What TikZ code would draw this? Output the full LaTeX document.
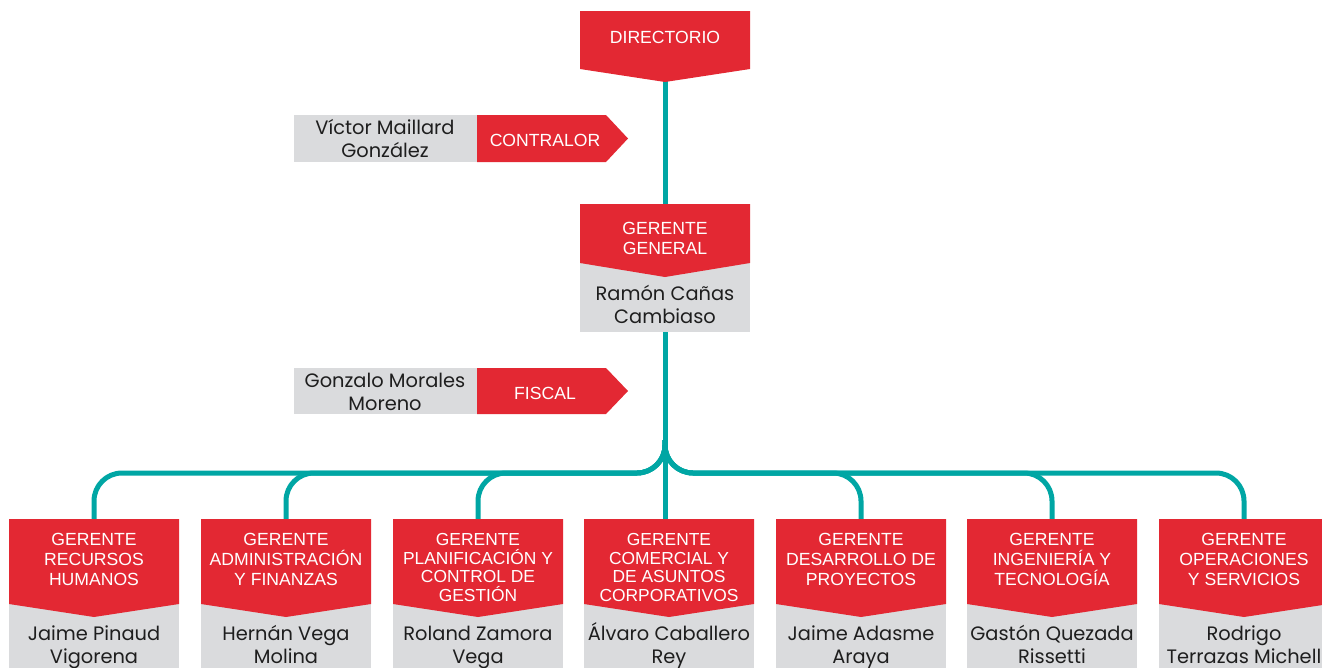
\documentclass[tikz,border=0pt]{standalone}
\usepackage{fontspec}
\setmainfont{Liberation Sans}
\newfontfamily\namefont{Poppins}
\definecolor{cred}{RGB}{227,40,51}
\definecolor{cgray}{RGB}{218,219,221}
\definecolor{cteal}{RGB}{0,166,164}
\definecolor{ctext}{RGB}{30,30,30}
\tikzset{
  redlbl/.style={text=white, font=\fontsize{17.6}{20}\selectfont, align=center, inner sep=0pt, anchor=base},
  redlblt/.style={redlbl, font=\fontsize{17.4}{18.5}\selectfont},
  namelbl/.style={text=ctext, font=\namefont\fontsize{19.4}{22.8}\selectfont, align=center, inner sep=0pt, anchor=base},
  conn/.style={draw=cteal, line width=5pt, rounded corners=28pt},
}
\begin{document}
\begin{tikzpicture}[x=1pt,y=-1pt]
\useasboundingbox (0,0) rectangle (1322,667);
% connector anchor points
\coordinate (dirB) at (665,80);
\coordinate (ggT) at (665,206);
\coordinate (ggB) at (665,330);
\coordinate (hub) at (665,440);
\coordinate (t4) at (665,521);
\foreach \i/\x in {1/94,2/286,3/478,5/861,6/1052,7/1244}{
  \coordinate (u\i) at (\x,473);
  \coordinate (t\i) at (\x,521);
}
% connectors
\draw[conn] (dirB) -- (ggT);
\draw[conn] (ggB) -- (t4);
\foreach \i in {1,2,3,5,6,7}{
  \draw[conn] (hub) |- (u\i) -- (t\i);
}
% DIRECTORIO
\fill[cred] (580,11) -- (750,11) -- (750,69) -- (665,82) -- (580,69) -- cycle;
\node[redlbl] (dir) at (665,43) {DIRECTORIO};
% GERENTE GENERAL
\fill[cgray] (580,255) rectangle (750,332);
\fill[cred] (580,204) -- (750,204) -- (750,263) -- (665,277) -- (580,263) -- cycle;
\node[redlbl] (gg) at (665,254) {GERENTE\\GENERAL};
\node[namelbl] (ggn) at (665,323) {Ramón Cañas\\Cambiaso};
% CONTRALOR
\fill[cgray] (294,115) rectangle (477,162);
\fill[cred] (477,115) -- (606,115) -- (628,138.5) -- (606,162) -- (477,162) -- cycle;
\node[redlbl] (con) at (545,146) {CONTRALOR};
\node[namelbl] (conn) at (385,157) {Víctor Maillard\\González};
% FISCAL
\fill[cgray] (294,368) rectangle (477,414);
\fill[cred] (477,368) -- (606,368) -- (628,391) -- (606,414) -- (477,414) -- cycle;
\node[redlbl] (fis) at (545,399) {FISCAL};
\node[namelbl] (fisn) at (385,410) {Gonzalo Morales\\Moreno};
% bottom boxes
\foreach \i/\l in {1/9,2/201,3/393,4/584,5/776,6/967,7/1159}{
  \pgfmathsetmacro{\r}{\l+170}
  \pgfmathsetmacro{\c}{\l+85}
  \fill[cgray] (\l,600) rectangle (\r,680);
  \fill[cred] (\l,519) -- (\r,519) -- (\r,604) -- (\c,617) -- (\l,604) -- cycle;
  \coordinate (c\i) at (\c,585);
  \coordinate (d\i) at (\c,601);
  \coordinate (n\i) at (\c,663);
}
\node[redlbl] (g1) at (c1) {GERENTE\\RECURSOS\\HUMANOS};
\node[redlbl] (g2) at (c2) {GERENTE\\ADMINISTRACIÓN\\Y FINANZAS};
\node[redlblt] (g3) at (d3) {GERENTE\\PLANIFICACIÓN Y\\CONTROL DE\\GESTIÓN};
\node[redlblt] (g4) at (d4) {GERENTE\\COMERCIAL Y\\DE ASUNTOS\\CORPORATIVOS};
\node[redlbl] (g5) at (c5) {GERENTE\\DESARROLLO DE\\PROYECTOS};
\node[redlbl] (g6) at (c6) {GERENTE\\INGENIERÍA Y\\TECNOLOGÍA};
\node[redlbl] (g7) at (c7) {GERENTE\\OPERACIONES\\Y SERVICIOS};
\node[namelbl] (m1) at (n1) {Jaime Pinaud\\Vigorena};
\node[namelbl] (m2) at (n2) {Hernán Vega\\Molina};
\node[namelbl] (m3) at (n3) {Roland Zamora\\Vega};
\node[namelbl] (m4) at (n4) {Álvaro Caballero\\Rey};
\node[namelbl] (m5) at (n5) {Jaime Adasme\\Araya};
\node[namelbl] (m6) at (n6) {Gastón Quezada\\Rissetti};
\node[namelbl] (m7) at (n7) {Rodrigo\\Terrazas Michell};
\end{tikzpicture}
\end{document}
